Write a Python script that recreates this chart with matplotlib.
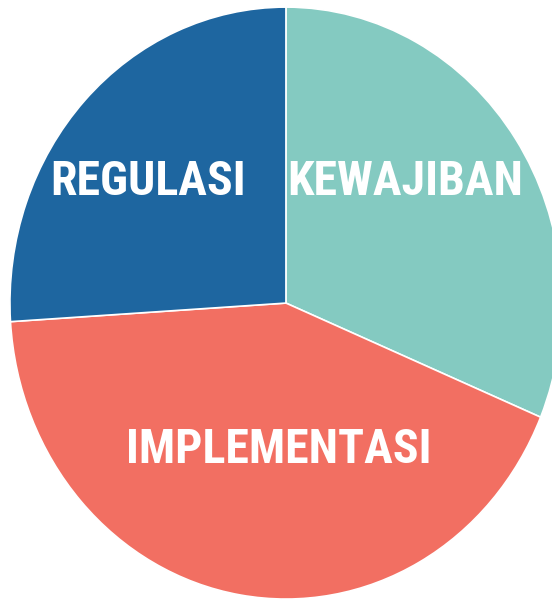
import matplotlib.pyplot as plt
from matplotlib import font_manager

# Data
labels = ['KEWAJIBAN', 'IMPLEMENTASI', 'REGULASI']
values = [31.3, 42.7, 26.0]
colors = ['#84CAC1', '#F26F62', '#1E66A0']

bold_fonts = {f.name for f in font_manager.fontManager.ttflist
              if isinstance(f.weight, int) and f.weight >= 700}
font = 'Liberation Sans'
for cand in ['Roboto Condensed', 'Liberation Sans Narrow', 'Archivo Narrow',
             'PT Sans Narrow', 'Asap Condensed']:
    if cand in bold_fonts:
        font = cand
        break

fig = plt.figure(figsize=(5.52, 6.02), dpi=100)
ax = fig.add_axes([0, 0, 1, 1])

ax.pie(values, colors=colors, startangle=90, counterclock=False,
       radius=1, wedgeprops={'edgecolor': 'white', 'linewidth': 1.2})

# pie is slightly stretched vertically in the original
ax.set_aspect('auto')
ax.set_xlim(-1.036, 0.964)
ax.set_ylim(-1.010, 1.024)
ax.axis('off')

# label anchor = horizontal centre, baseline
label_pos = {'REGULASI': (-0.498, 0.365),
             'KEWAJIBAN': (0.433, 0.365),
             'IMPLEMENTASI': (-0.025, -0.541)}
for name, (x, y) in label_pos.items():
    ax.text(x, y, name, color='white', fontsize=34.5, fontweight='bold',
            family=font, ha='center', va='baseline')

plt.savefig('out.png', dpi=100)
